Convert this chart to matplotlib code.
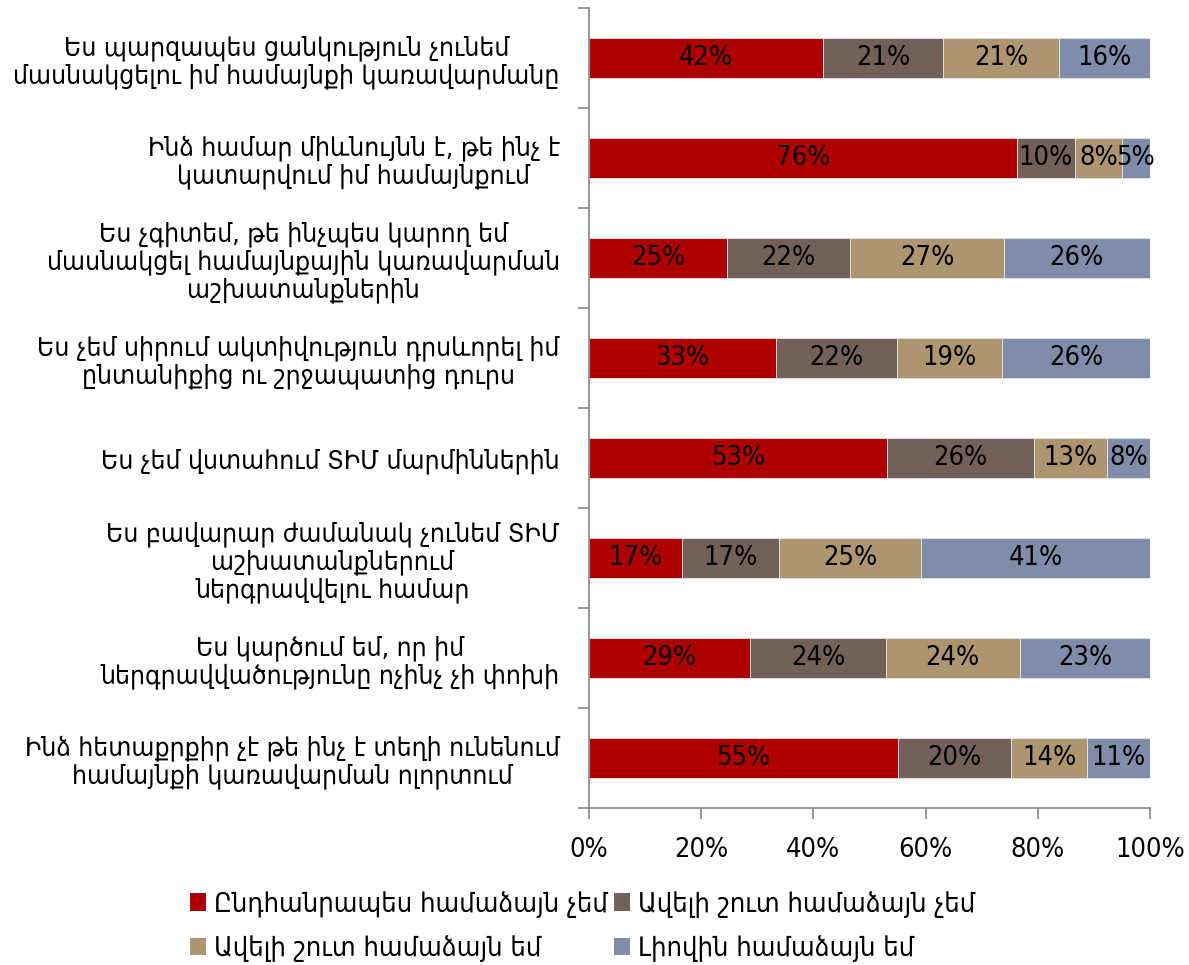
import numpy as np
import matplotlib.pyplot as plt
from matplotlib.patches import Patch

# categories, top to bottom
categories = [
    "Ես պարզապես ցանկություն չունեմ\nմասնակցելու իմ համայնքի կառավարմանը",
    "Ինձ համար միևնույնն է, թե ինչ է\nկատարվում իմ համայնքում",
    "Ես չգիտեմ, թե ինչպես կարող եմ\nմասնակցել համայնքային կառավարման\nաշխատանքներին",
    "Ես չեմ սիրում ակտիվություն դրսևորել իմ\nընտանիքից ու շրջապատից դուրս",
    "Ես չեմ վստահում ՏԻՄ մարմիններին",
    "Ես բավարար ժամանակ չունեմ ՏԻՄ\nաշխատանքներում\nներգրավվելու համար",
    "Ես կարծում եմ, որ իմ\nներգրավվածությունը ոչինչ չի փոխի",
    "Ինձ հետաքրքիր չէ թե ինչ է տեղի ունենում\nհամայնքի կառավարման ոլորտում",
]

series_names = [
    "Ընդհանրապես համաձայն չեմ",
    "Ավելի շուտ համաձայն չեմ",
    "Ավելի շուտ համաձայն եմ",
    "Լիովին համաձայն եմ",
]

strongly_disagree = [41.7, 76.3, 24.6, 33.3, 53.1, 16.6, 28.7, 55.1]
disagree          = [21.4, 10.3, 22.0, 21.6, 26.2, 17.2, 24.2, 20.1]
agree             = [20.7, 8.4, 27.3, 18.7, 13.0, 25.4, 23.9, 13.6]
strongly_agree    = [16.2, 5.0, 26.1, 26.4, 7.7, 40.8, 23.2, 11.2]

colors = ["#AE0000", "#736058", "#AD9570", "#7F8CAA"]

plt.rcParams['font.family'] = ['DejaVu Sans']
plt.rcParams['font.stretch'] = 'condensed'
FS = 19.5

fig = plt.figure(figsize=(11.89, 9.65), dpi=100)
ax = fig.add_axes([0.4954, 0.1627, 0.4718, 0.829])

data = [strongly_disagree, disagree, agree, strongly_agree]
y = np.arange(len(categories))
left = np.zeros(len(categories))
for vals, col in zip(data, colors):
    vals = np.array(vals)
    bars = ax.barh(y, vals, left=left, height=0.4, color=col,
                   edgecolor="#E6E6E6", linewidth=0.6)
    for b, v in zip(bars, vals):
        ax.text(b.get_x() + b.get_width() / 2, b.get_y() + b.get_height() / 2,
                "%d%%" % round(v), ha="center", va="center",
                fontsize=FS, color="black")
    left = left + vals

ax.set_xlim(0, 100)
ax.set_ylim(len(categories) - 0.5, -0.5)
ax.set_xticks(np.arange(0, 101, 20))
ax.set_xticklabels(["%d%%" % t for t in range(0, 101, 20)], fontsize=FS)
ax.set_yticks(y)
ax.set_yticklabels(categories, fontsize=19, ha="right", multialignment="center",
                   linespacing=1.1)
ax.set_yticks(np.arange(-0.5, len(categories)), minor=True)
ax.tick_params(axis="y", which="major", length=0, pad=21)
ax.tick_params(axis="y", which="minor", length=8, color="#888888", width=1.2)
ax.tick_params(axis="x", length=8, color="#888888", width=1.2, pad=13)

for s in ["top", "right"]:
    ax.spines[s].set_visible(False)
for s in ["left", "bottom"]:
    ax.spines[s].set_color("#888888")
    ax.spines[s].set_linewidth(1.2)

# legend filled row by row
order = [0, 2, 1, 3]
handles = [Patch(facecolor=colors[i], edgecolor="none") for i in order]
labels = [series_names[i] for i in order]
fig.legend(handles, labels, loc="center", bbox_to_anchor=(0.49, 0.04),
           ncol=2, frameon=False, fontsize=FS, handlelength=0.6, handleheight=0.6,
           handletextpad=0.3, columnspacing=0.2, labelspacing=0.65)

fig.savefig("out.png", dpi=100)
